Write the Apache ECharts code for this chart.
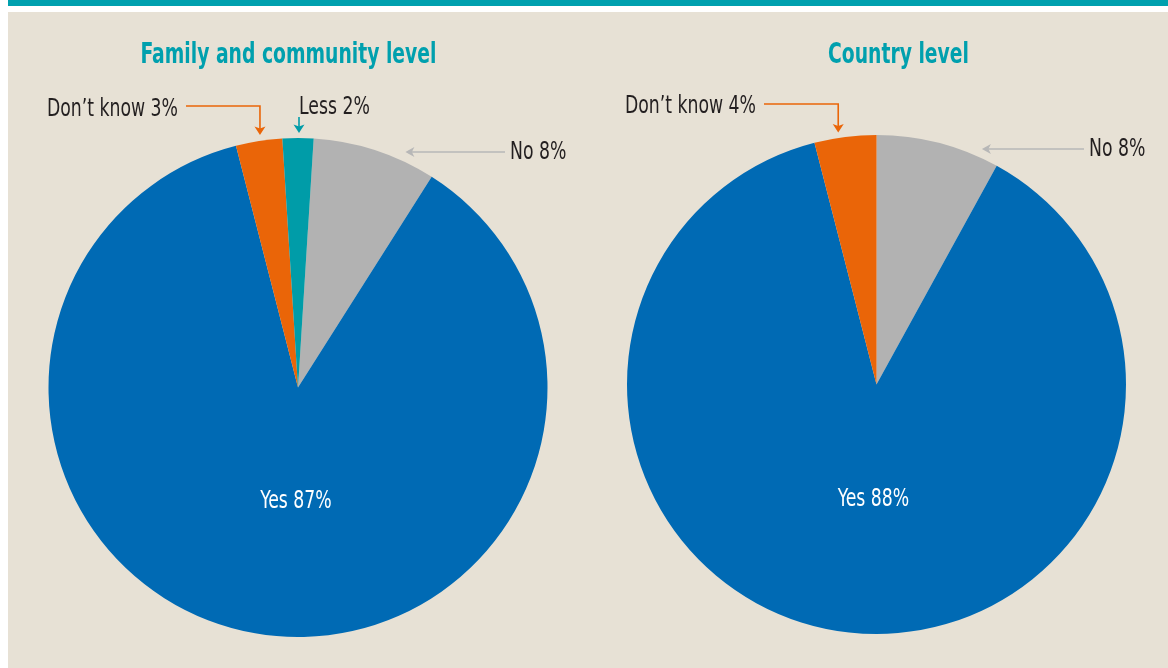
<!DOCTYPE html>
<html>
<head>
<meta charset="utf-8">
<script src="https://cdn.jsdelivr.net/npm/echarts@6/dist/echarts.min.js"></script>
<style>
html,body{margin:0;padding:0;background:#ffffff;}
#chart{width:1168px;height:668px;}
</style>
</head>
<body>
<div id="chart"></div>
<script>
// ---- data ----
const chartTitles = ['Family and community level', 'Country level'];
const leftCategories = ['No', 'Yes', 'Don\u2019t know', 'Less'];
const leftValues = [8, 87, 3, 2];
const rightCategories = ['No', 'Yes', 'Don\u2019t know'];
const rightValues = [8, 88, 4];

// ---- styles ----
const FONT = "'DejaVu Sans Condensed', 'Liberation Sans Narrow', sans-serif";
const SX = 0.8;          // horizontal squeeze to imitate a condensed face
const TY = 2;            // baseline nudge for text
const COLORS = { No: '#b2b2b2', Yes: '#006ab4', 'Don\u2019t know': '#ea6508', Less: '#009ca8' };
const TEXT = '#231f20';
const TEAL = '#00a0ae';
const BEIGE = '#e7e1d5';
const GREYLINE = '#b7b7b7';

const PIES = [
  { center: [298, 387.5], radius: 249.5, startAngle: 86.4, yesOffset: [17.5, -10.5], titleX: 288.5 },
  { center: [876.5, 384.5], radius: 249.5, startAngle: 90, yesOffset: [12.6, -10.5], titleX: 898.5 }
];

function buildData(cats, vals) {
  return cats.map((c, i) => ({ name: c, value: vals[i], itemStyle: { color: COLORS[c] } }));
}

const chart = echarts.init(document.getElementById('chart'), null, { renderer: 'canvas' });

const baseGraphic = [
  { type: 'rect', z: -10, shape: { x: 8, y: 0, width: 1160, height: 6 }, style: { fill: '#00a0ae' }, silent: true },
  { type: 'rect', z: -10, shape: { x: 8, y: 12, width: 1160, height: 656 }, style: { fill: BEIGE }, silent: true }
];

const option = {
  animation: false,
  backgroundColor: '#ffffff',
  graphic: baseGraphic,
  series: PIES.map((p, s) => ({
    type: 'pie', silent: true, center: p.center, radius: p.radius,
    startAngle: p.startAngle, clockwise: true, avoidLabelOverlap: false,
    label: { show: false }, labelLine: { show: false },
    itemStyle: { borderWidth: 0 },
    data: s === 0 ? buildData(leftCategories, leftValues) : buildData(rightCategories, rightValues)
  }))
};
chart.setOption(option);

// slice geometry from the library's layout (fallback: same rule as the pie layout)
function sliceGeom(s, i) {
  try {
    const data = chart.getModel().getSeriesByIndex(s).getData();
    const L = data.getItemLayout(i);
    if (L && isFinite(L.startAngle)) {
      return { cx: L.cx, cy: L.cy, r: L.r, a: (L.startAngle + L.endAngle) / 2 };
    }
  } catch (e) {}
  const vals = s === 0 ? leftValues : rightValues;
  const total = vals.reduce((a, b) => a + b, 0);
  let cum = 0;
  for (let k = 0; k < i; k++) cum += vals[k];
  const a0 = -PIES[s].startAngle * Math.PI / 180 + cum / total * 2 * Math.PI;
  const a1 = a0 + vals[i] / total * 2 * Math.PI;
  return { cx: PIES[s].center[0], cy: PIES[s].center[1], r: PIES[s].radius, a: (a0 + a1) / 2 };
}
function radialPoint(g, f) { return [g.cx + g.r * f * Math.cos(g.a), g.cy + g.r * f * Math.sin(g.a)]; }

function label(text, x, y, align, color, font) {
  return { type: 'text', x: x, y: y + TY, scaleX: SX, silent: true, z: 10,
    style: { text: text, fill: color || TEXT, font: font || ('24px ' + FONT), align: align, verticalAlign: 'middle' } };
}
function line(points, color) {
  return { type: 'polyline', silent: true, z: 10, shape: { points: points },
    style: { stroke: color, lineWidth: 1.6, fill: null } };
}
function arrowDown(x, y, color) {
  return { type: 'polygon', silent: true, z: 10,
    shape: { points: [[x, y], [x - 5.5, y - 8.5], [x, y - 6.5], [x + 5.5, y - 8.5]] },
    style: { fill: color } };
}
function arrowLeft(x, y, color) {
  return { type: 'polygon', silent: true, z: 10,
    shape: { points: [[x, y], [x + 9, y - 5], [x + 6.5, y], [x + 9, y + 5]] },
    style: { fill: color } };
}
function txt(cats, vals, i) { return cats[i] + ' ' + vals[i] + '%'; }

const ann = [];
// titles
PIES.forEach((p, s) => {
  ann.push(label(chartTitles[s], p.titleX, 54, 'center', TEAL, 'bold 28px ' + FONT));
  ann[ann.length - 1].scaleX = 0.745;
});
// Yes labels (inside the big slice)
[[leftCategories, leftValues], [rightCategories, rightValues]].forEach((cv, s) => {
  const i = cv[0].indexOf('Yes');
  const pt = radialPoint(sliceGeom(s, i), 0.5);
  ann.push(label(txt(cv[0], cv[1], i), pt[0] + PIES[s].yesOffset[0], pt[1] + PIES[s].yesOffset[1], 'center', '#ffffff'));
});
// ---- left pie ----
{
  const e = radialPoint(sliceGeom(0, 2), 1);
  const tx = e[0] + 1, ty = e[1] - 6, ly = 106;
  ann.push(line([[186, ly], [tx, ly], [tx, ty - 6]], COLORS['Don\u2019t know']));
  ann.push(arrowDown(tx, ty, COLORS['Don\u2019t know']));
  ann.push(label(txt(leftCategories, leftValues, 2), 178, 107.5, 'right'));
  const e2 = radialPoint(sliceGeom(0, 3), 1);
  const tx2 = e2[0] + 1, ty2 = e2[1] - 5;
  ann.push(line([[tx2, 117], [tx2, ty2 - 6]], COLORS.Less));
  ann.push(arrowDown(tx2, ty2, COLORS.Less));
  ann.push(label(txt(leftCategories, leftValues, 3), tx2, 105.5, 'left'));
  const g3 = sliceGeom(0, 0), y3 = 152;
  const tx3 = g3.cx + Math.sqrt(g3.r * g3.r - (y3 - g3.cy) * (y3 - g3.cy)) + 25;
  ann.push(line([[505, y3], [tx3 + 6, y3]], GREYLINE));
  ann.push(arrowLeft(tx3, y3, GREYLINE));
  ann.push(label(txt(leftCategories, leftValues, 0), 510, 150.5, 'left'));
}
// ---- right pie ----
{
  const e = radialPoint(sliceGeom(1, 2), 1);
  const tx = e[0] - 7, ty = e[1] - 4.5, ly = 104;
  ann.push(line([[764, ly], [tx, ly], [tx, ty - 6]], COLORS['Don\u2019t know']));
  ann.push(arrowDown(tx, ty, COLORS['Don\u2019t know']));
  ann.push(label(txt(rightCategories, rightValues, 2), 756, 105, 'right'));
  const g3 = sliceGeom(1, 0), y3 = 149;
  const tx3 = g3.cx + Math.sqrt(g3.r * g3.r - (y3 - g3.cy) * (y3 - g3.cy)) + 23;
  ann.push(line([[1084, y3], [tx3 + 6, y3]], GREYLINE));
  ann.push(arrowLeft(tx3, y3, GREYLINE));
  ann.push(label(txt(rightCategories, rightValues, 0), 1089, 147.5, 'left'));
}

chart.setOption({ graphic: baseGraphic.concat(ann) }, { replaceMerge: ['graphic'] });
</script>
</body>
</html>
